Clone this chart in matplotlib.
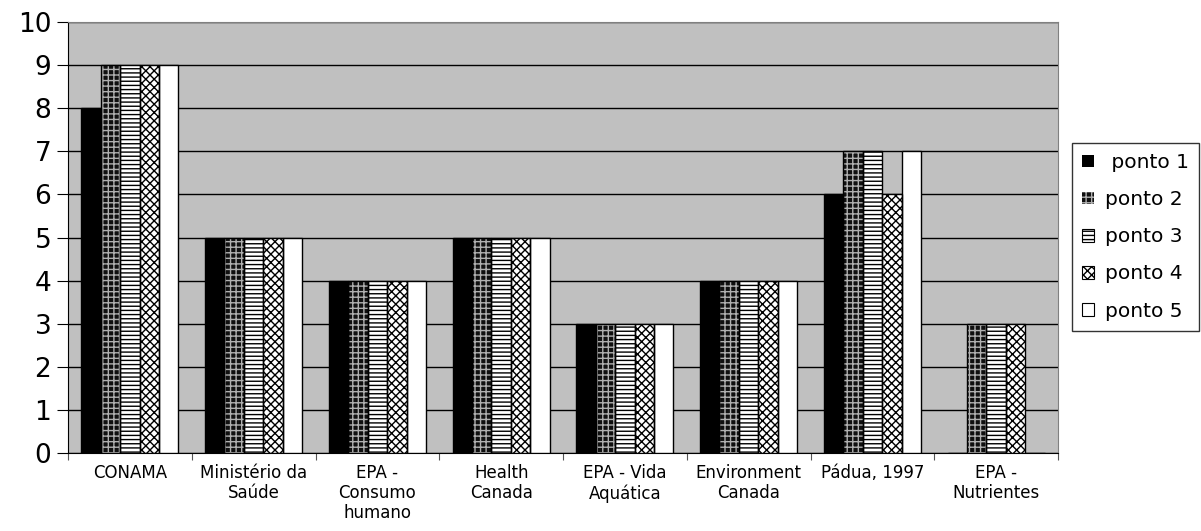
import matplotlib.pyplot as plt
import numpy as np

plt.rcParams['hatch.linewidth'] = 1.0

categories = ['CONAMA', 'Ministério da\nSaúde', 'EPA -\nConsumo\nhumano', 'Health\nCanada',
              'EPA - Vida\nAquática', 'Environment\nCanada', 'Pádua, 1997', 'EPA -\nNutrientes']
series_names = [' ponto 1', 'ponto 2', 'ponto 3', 'ponto 4', 'ponto 5']
ponto1 = [8, 5, 4, 5, 3, 4, 6, 0]
ponto2 = [9, 5, 4, 5, 3, 4, 7, 3]
ponto3 = [9, 5, 4, 5, 3, 4, 7, 3]
ponto4 = [9, 5, 4, 5, 3, 4, 6, 3]
ponto5 = [9, 5, 4, 5, 3, 4, 7, 0]
series = [ponto1, ponto2, ponto3, ponto4, ponto5]

# (face, hatch colour, hatch)
styles = [('black', 'black', ''),
          ('#101010', '#b0b0b0', '+++'),
          ('white', 'black', '----'),
          ('white', 'black', 'xxxx'),
          ('white', 'white', '')]

fig = plt.figure(figsize=(12.01, 5.31), dpi=100)
ax = fig.add_axes([68 / 1201, 1 - 453 / 531, (1058 - 68) / 1201, (453 - 22) / 531])
ax.set_facecolor('#c0c0c0')

x = np.arange(len(categories))
w = 0.157
handles = []
for i, vals in enumerate(series):
    face, hcol, hatch = styles[i]
    pos = x + (i - 2) * w
    ax.bar(pos, vals, w, color=face, edgecolor=hcol, hatch=hatch, linewidth=0, zorder=3)
    ax.bar(pos, vals, w, fill=False, edgecolor='black', linewidth=1, zorder=4)
    handles.append(plt.Rectangle((0, 0), 1, 1, facecolor=face, edgecolor=hcol,
                                 hatch=hatch, linewidth=0))

ax.set_xlim(-0.5, len(categories) - 0.5)
ax.set_ylim(0, 10)
ax.set_yticks(range(0, 11))
ax.yaxis.grid(True, color='black', linewidth=1, zorder=1)
ax.set_axisbelow(True)
ax.set_xticks(np.arange(-0.5, len(categories), 1))
ax.set_xticklabels([])
ax.set_xticks(x, minor=True)
ax.set_xticklabels(categories, minor=True, fontsize=12, linespacing=1.15)
ax.tick_params(axis='x', which='minor', length=0, pad=8)
ax.tick_params(axis='x', which='major', length=5, color='#555555')
ax.tick_params(axis='y', labelsize=19, length=8, pad=4)
for s in ['top', 'right']:
    ax.spines[s].set_color('#808080')
for s in ['left', 'bottom']:
    ax.spines[s].set_color('black')

leg = fig.legend(handles, series_names, loc='upper left',
                 bbox_to_anchor=(1072 / 1201, 1 - 143 / 531),
                 fontsize=14.5, frameon=True, fancybox=False, edgecolor='black',
                 handlelength=0.6, handleheight=0.6, handletextpad=0.55, labelspacing=0.9,
                 borderpad=0.5, borderaxespad=0)
leg.get_frame().set_linewidth(1)
for p in leg.get_patches()[2:]:
    p.set_edgecolor('black')
    p.set_linewidth(0.8)

fig.savefig('out.png', dpi=100, facecolor='white')
